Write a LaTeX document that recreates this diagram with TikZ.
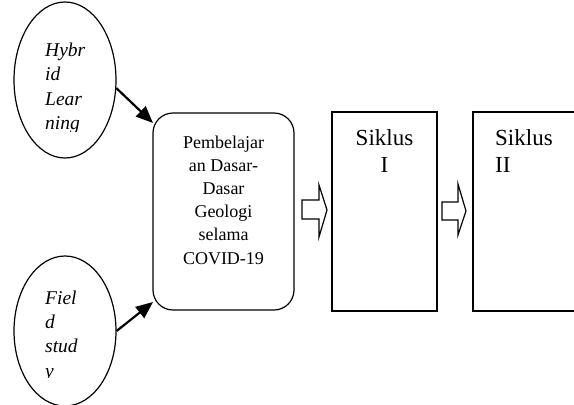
\documentclass[tikz,border=0pt]{standalone}
\usepackage{fontspec}
\setmainfont{Liberation Serif}
\usetikzlibrary{arrows.meta,shapes.geometric}
\tikzset{
  oval/.style={draw, line width=1.2pt, ellipse, inner sep=0pt},
  ovaltext/.style={anchor=base west, align=left, inner sep=0pt, font=\fontsize{19.5}{24.3}\selectfont\itshape},
  roundbox/.style={draw, line width=1.2pt, rounded corners=20pt, inner sep=0pt},
  cyclebox/.style={draw, line width=1.2pt, inner sep=0pt, minimum width=105pt, minimum height=199pt},
  boxtext/.style={anchor=base, align=center, inner sep=0pt, font=\fontsize{18}{23.2}\selectfont},
  cycletext/.style={inner sep=0pt, font=\fontsize{23}{27}\selectfont},
  conn/.style={line width=2.2pt, -{Triangle[length=17pt,width=14pt]}},
  blockarrow/.style={draw, line width=1.2pt, fill=white, line join=miter}
}
\begin{document}
\begin{tikzpicture}[x=1pt,y=-1pt]
\clip (0,0) rectangle (574,405);
\useasboundingbox (0,0) rectangle (574,405);
% ellipses
\node[oval, minimum width=102pt, minimum height=156pt] (hl) at (65,80) {};
\node[oval, minimum width=102pt, minimum height=150pt] (fs) at (65,331) {};
\begin{scope}
\clip (0,0) rectangle (574,131);
\node[ovaltext] (hlt) at (45,129.5) {Hybr\\id\\Lear\\ning};
\end{scope}
\begin{scope}
\clip (0,200) rectangle (574,377.5);
\node[ovaltext] (fst) at (45,377) {Fiel\\d\\stud\\y};
\end{scope}
% main rounded box
\node[roundbox, minimum width=141pt, minimum height=197pt] (pb) at (223.5,211.5) {};
\node[boxtext] (pbt) at (223.5,264) {Pembelajar\\an Dasar-\\Dasar\\Geologi\\selama\\COVID-19};
% cycle boxes
\node[cyclebox] (s1) at (384.5,211.5) {};
\node[cycletext, anchor=base, align=center] (s1t) at (384.5,172) {Siklus\\I};
\node[cyclebox] (s2) at (525.5,211.5) {};
\node[cycletext, anchor=base west, align=left] (s2t) at (495,172) {Siklus\\II};
% connectors
\coordinate (t1) at (153,123);
\coordinate (t2) at (153,302);
\draw[conn] (hl.-9) -- (t1);
\draw[conn] (fs.east) -- (t2);
% block arrows
\draw[blockarrow] (302,200) -- (319,200) -- (319,185) -- (327,210) -- (319,237) -- (319,219) -- (302,219) -- cycle;
\draw[blockarrow] (442,202) -- (458,202) -- (458,184) -- (466,211) -- (458,235) -- (458,220) -- (442,220) -- cycle;
\end{tikzpicture}
\end{document}
